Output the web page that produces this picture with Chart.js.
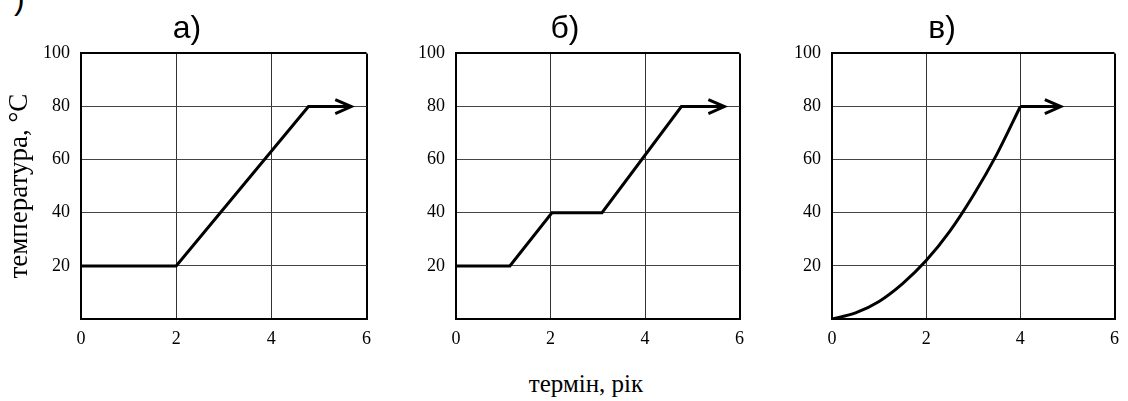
<!DOCTYPE html>
<html>
<head>
<meta charset="utf-8">
<script src="https://cdn.jsdelivr.net/npm/chart.js@4.4.1/dist/chart.umd.min.js"></script>
<style>
  body { margin: 0; background: #fff; }
  #wrap { position: relative; width: 1128px; height: 401px; overflow: hidden; background: #fff; }
  canvas { position: absolute; top: 0; }
  .txt { position: absolute; color: #000; white-space: nowrap; }
</style>
</head>
<body>
<div id="wrap">
  <div class="txt" style="left:14px; top:-20px; font: 32px 'Liberation Sans', Arial, sans-serif;">)</div>
  <canvas id="panelA" width="380" height="350" style="left:0px"></canvas>
  <canvas id="panelB" width="380" height="350" style="left:373px"></canvas>
  <canvas id="panelC" width="380" height="350" style="left:748px"></canvas>
  <div class="txt" id="xLabel" style="left:476px; width:220px; text-align:center; top:370px; line-height:30px; font: 25px 'Liberation Serif', 'Times New Roman', serif;">термін, рік</div>
</div>
<script>
// Data (x = years, y = °C)
const titles = ["а)", "б)", "в)"];
const yAxisTitle = "температура, °С";

const aX = [0, 2.0, 4.78, 5.68];
const aY = [20, 20, 80, 80];

const bX = [0, 1.14, 2.03, 3.09, 4.77, 5.68];
const bY = [20, 20, 40, 40, 80, 80];

const cCurveX = [0, 0.5, 1, 1.5, 2, 2.5, 3, 3.5, 4];
const cCurveY = [0, 2.3, 6.6, 13.3, 22, 33, 46.5, 62, 80];
const cArrowX = [4, 4.86];
const cArrowY = [80, 80];

const xMin = 0, xMax = 6, xStep = 2;
const yMin = 0, yMax = 100, yStep = 20;

const serif = "Liberation Serif";
const sans = "Liberation Sans";

Chart.defaults.font.family = serif;
Chart.defaults.font.size = 18;
Chart.defaults.color = "#000";

function pts(xs, ys) {
  return xs.map((x, i) => ({ x: x, y: ys[i] }));
}

// open arrow head at the last point of datasets marked with arrow: true
const arrowHead = {
  id: "arrowHead",
  afterDatasetsDraw(chart) {
    const ctx = chart.ctx;
    chart.data.datasets.forEach((ds, i) => {
      if (!ds.arrow) return;
      const els = chart.getDatasetMeta(i).data;
      const tip = els[els.length - 1];
      ctx.save();
      ctx.strokeStyle = "#000";
      ctx.lineWidth = 3;
      ctx.beginPath();
      ctx.moveTo(tip.x - 16, tip.y - 7);
      ctx.lineTo(tip.x, tip.y);
      ctx.lineTo(tip.x - 16, tip.y + 7);
      ctx.stroke();
      ctx.restore();
    });
  }
};

function lineSet(data, extra) {
  return Object.assign({
    data: data,
    borderColor: "#000",
    borderWidth: 3,
    pointRadius: 0,
    fill: false,
    tension: 0
  }, extra || {});
}

function makePanel(id, title, datasets, padL, padR, yWidth, showYTitle) {
  const edgeX = (c) => (c.tick.value === xMin || c.tick.value === xMax) ? 2 : 1;
  const edgeY = (c) => (c.tick.value === yMin || c.tick.value === yMax) ? 2 : 1;
  return new Chart(document.getElementById(id), {
    type: "line",
    data: { datasets: datasets },
    plugins: [arrowHead],
    options: {
      responsive: false,
      animation: false,
      devicePixelRatio: 1,
      layout: { padding: { left: padL, right: padR, top: 0, bottom: 0 } },
      plugins: {
        legend: { display: false },
        tooltip: { enabled: false },
        title: {
          display: true,
          text: title,
          color: "#000",
          font: { family: sans, size: 32, weight: "normal", lineHeight: 1.2 },
          padding: { top: 10, bottom: 5 }
        }
      },
      scales: {
        x: {
          type: "linear",
          min: xMin,
          max: xMax,
          ticks: { stepSize: xStep, color: "#000", padding: 9, font: { family: serif, size: 18 } },
          grid: { color: (c) => edgeX(c) === 2 ? "#000" : "#333", lineWidth: edgeX, drawTicks: false },
          border: { display: true, color: "#000", width: 2 },
          afterFit: (s) => { s.height = 31; }
        },
        y: {
          min: yMin,
          max: yMax,
          ticks: {
            stepSize: yStep,
            color: "#000",
            padding: 11,
            font: { family: serif, size: 18 },
            callback: (v) => v === 0 ? "" : String(v)
          },
          grid: { color: (c) => edgeY(c) === 2 ? "#000" : "#444", lineWidth: edgeY, drawTicks: false },
          border: { display: true, color: "#000", width: 2 },
          title: {
            display: showYTitle,
            text: yAxisTitle,
            color: "#000",
            font: { family: serif, size: 27, lineHeight: 1.0 },
            padding: { top: 0, bottom: 0 }
          },
          afterFit: (s) => { s.width = yWidth; }
        }
      }
    }
  });
}

makePanel("panelA", titles[0], [lineSet(pts(aX, aY), { arrow: true })], 6, 12, 75, true);
makePanel("panelB", titles[1], [lineSet(pts(bX, bY), { arrow: true })], 16, 12, 67, false);
makePanel("panelC", titles[2], [
  lineSet(pts(cCurveX, cCurveY), { tension: 0.4, cubicInterpolationMode: "monotone" }),
  lineSet(pts(cArrowX, cArrowY), { arrow: true })
], 18, 10, 66, false);
</script>
</body>
</html>
